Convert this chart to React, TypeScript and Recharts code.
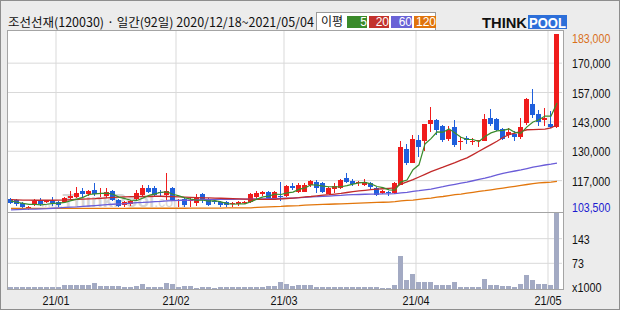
import React from "react";
import { ComposedChart, Bar, Line, XAxis, YAxis, CartesianGrid } from "recharts";

// 조선선재 daily candles, 2020/12/18 ~ 2021/05/04 (92 trading days)
const opens = [
  108500, 108000, 106500, 104500, 106000, 108000, 107000, 107500, 107000, 107000,
  109000, 109000, 112000, 110500, 112500, 110500, 109500, 112000, 108000, 105500,
  106000, 108500, 110500, 113500, 113500, 111500, 110000, 113500, 107500, 108500,
  107500, 107000, 110500, 108500, 107500, 107000, 107000, 106000, 106000, 106500,
  107000, 109000, 110500, 111500, 108500, 110000, 110000, 114500, 112000, 112000,
  114500, 116000, 115500, 111000, 113000, 113500, 118000, 116500, 115500, 114500,
  115500, 113500, 111000, 111500, 111000, 115000, 131000, 124500, 135000, 135000,
  142000, 144000, 141500, 135500, 141000, 134000, 136000, 134000, 134500, 134500,
  145000, 144500, 140000, 137000, 138000, 136500, 142500, 151500, 147000, 144000,
  142500, 141000,
];
const highs = [
  109000, 108500, 107000, 105500, 108500, 109000, 108000, 109500, 107500, 109500,
  112000, 114000, 113500, 112500, 115500, 113500, 113500, 112500, 108500, 107500,
  108000, 112500, 115000, 115000, 114500, 112500, 120000, 114000, 108500, 109000,
  109000, 110500, 111000, 109000, 108500, 107500, 107500, 107000, 107500, 107500,
  111000, 112000, 112000, 112000, 112000, 116000, 115000, 115500, 115500, 115500,
  117000, 117000, 116000, 114000, 115500, 117500, 120000, 117500, 116500, 117500,
  116000, 114000, 112500, 112000, 116000, 134500, 133500, 137500, 137500, 142500,
  150000, 144500, 142000, 141500, 144000, 136500, 137000, 136000, 135000, 147000,
  149000, 145000, 140500, 140500, 139000, 145000, 154000, 158000, 148500, 149500,
  148000, 183000,
];
const lows = [
  106000, 105500, 104000, 103500, 105500, 105500, 106500, 105500, 105000, 106500,
  108500, 109000, 109500, 110000, 110000, 109500, 109000, 107500, 105000, 105000,
  105500, 108000, 110000, 111000, 109500, 110000, 108000, 107500, 105000, 105000,
  105000, 105500, 106500, 105500, 106000, 105000, 105000, 105000, 105500, 106000,
  106500, 108500, 110000, 108500, 108000, 107500, 109500, 112500, 111000, 111500,
  114000, 111000, 111000, 110500, 111000, 113000, 115500, 114500, 114500, 114500,
  113000, 110000, 110500, 110000, 110500, 115000, 124000, 124500, 127500, 130000,
  138500, 137500, 134000, 134500, 132000, 130500, 133500, 133000, 132000, 134500,
  141500, 139000, 135000, 136000, 134500, 135500, 142000, 145000, 141500, 141500,
  140500, 140500,
];
const closes = [
  106500, 106000, 104500, 105000, 107500, 106000, 107500, 106500, 105500, 109000,
  110000, 111000, 110500, 112000, 110500, 111000, 111500, 108000, 105500, 107000,
  107500, 111000, 113500, 111500, 110500, 111000, 112000, 108000, 108000, 106000,
  108000, 109500, 108000, 106000, 107000, 105500, 105500, 106500, 107000, 107000,
  110500, 111000, 111500, 109000, 111500, 109500, 114500, 113500, 115000, 115000,
  116500, 113500, 111500, 113500, 114500, 117000, 116000, 115000, 116000, 116000,
  113500, 110500, 112000, 111000, 115500, 132000, 124500, 135500, 132000, 142500,
  144000, 139500, 135000, 139500, 133000, 134500, 135000, 134500, 135000, 144500,
  142500, 139500, 135500, 138500, 136500, 141000, 153500, 146500, 143500, 145000,
  141000, 183000,
];
// volume, x1000 shares
const volumes = [
  6, 5, 5, 5, 5, 5, 5, 5, 5, 10,
  10, 12, 10, 12, 18, 8, 8, 8, 8, 7,
  7, 8, 14, 6, 6, 7, 16, 14, 7, 9,
  9, 3, 6, 6, 4, 5, 5, 5, 6, 7,
  7, 6, 6, 8, 8, 19, 15, 8, 10, 11,
  11, 7, 6, 7, 7, 7, 6, 5, 5, 6,
  5, 5, 3, 4, 12, 93, 26, 43, 19, 20,
  19, 12, 12, 10, 19, 7, 7, 7, 7, 29,
  11, 10, 8, 8, 6, 14, 41, 25, 14, 13,
  12, 240,
];
const ma5 = [
  107500, 107000, 106500, 106000, 106000, 105800, 106100, 106500, 106600, 106900,
  107700, 108400, 109200, 110500, 110800, 111000, 111100, 110600, 109300, 108600,
  107900, 107800, 108900, 110100, 110800, 111500, 111700, 110600, 109900, 109000,
  108400, 107900, 107900, 107500, 107700, 107200, 106400, 106100, 106300, 106300,
  107300, 108400, 109400, 109800, 110700, 110500, 111200, 111600, 112800, 113500,
  114900, 114700, 114300, 114000, 113900, 114000, 114500, 115200, 115700, 116000,
  115300, 114100, 113600, 112600, 112500, 116200, 117000, 121700, 123900, 133300,
  135700, 138700, 138600, 140100, 138200, 136300, 135400, 135300, 134400, 136700,
  138300, 139200, 139400, 140100, 138500, 138200, 141000, 143200, 144200, 145900,
  145900, 151800,
];
const ma20 = [
  108200, 108100, 108000, 108000, 107900, 107900, 107900, 107900, 108000, 108000,
  108200, 108300, 108400, 108500, 108600, 108800, 109000, 109200, 109300, 109400,
  109500, 109500, 109600, 109600, 109700, 109700, 109600, 109500, 109400, 109300,
  109200, 109100, 109000, 109000, 108900, 108800, 108700, 108600, 108500, 108400,
  108400, 108300, 108300, 108300, 108300, 108500, 108700, 108900, 109100, 109400,
  109600, 109900, 110200, 110400, 110700, 111000, 111400, 111800, 112100, 112400,
  112700, 112900, 113100, 113300, 113500, 115200, 116200, 117200, 118400, 119600,
  120800, 121800, 122800, 123900, 124900, 126000, 127000, 128500, 130000, 131500,
  133000, 134500, 136200, 137500, 138200, 139000, 139700, 139800, 139900, 140000,
  140500, 142000,
];
const ma60 = [
  103600, 103700, 103800, 103900, 103900, 104000, 104100, 104300, 104500, 104700,
  104800, 104900, 105100, 105300, 105500, 105700, 105900, 106100, 106300, 106400,
  106600, 106800, 106900, 107100, 107300, 107400, 107600, 107700, 107800, 107900,
  108000, 108100, 108200, 108200, 108300, 108300, 108300, 108300, 108400, 108400,
  108400, 108500, 108500, 108600, 108600, 108700, 108800, 108900, 109100, 109200,
  109400, 109500, 109700, 109800, 110000, 110100, 110300, 110400, 110500, 110600,
  110700, 110700, 110800, 110800, 110900, 111200, 111500, 111900, 112200, 112600,
  112950, 113500, 114000, 114600, 115100, 115600, 116100, 116700, 117300, 117900,
  118600, 119400, 120000, 120600, 121100, 121600, 122200, 122800, 123300, 123800,
  124200, 124700,
];
const ma120 = [
  104200, 104200, 104200, 104200, 104200, 104200, 104200, 104200, 104200, 104200,
  104250, 104250, 104250, 104250, 104250, 104250, 104250, 104250, 104250, 104250,
  104300, 104300, 104300, 104300, 104300, 104300, 104300, 104300, 104300, 104300,
  104350, 104350, 104350, 104350, 104350, 104350, 104450, 104450, 104450, 104450,
  104450, 104700, 104800, 104900, 105000, 105100, 105300, 105400, 105500, 105700,
  105800, 105900, 106000, 106100, 106200, 106300, 106400, 106500, 106600, 106700,
  106800, 106900, 107000, 107100, 107300, 107600, 107800, 108000, 108300, 108600,
  108900, 109300, 109600, 110000, 110400, 110700, 111100, 111500, 111900, 112200,
  112600, 113000, 113400, 113800, 114200, 114600, 115000, 115400, 115700, 115900,
  116100, 116400,
];

const monthStarts = [8, 28, 46, 68, 90];
const monthLabels = ["21/01", "21/02", "21/03", "21/04", "21/05"];
const priceTicks = [103500, 116750, 130000, 143250, 156500, 169750, 183000];
const priceTickLabels = ["103,500", "117,000", "130,000", "143,000", "157,000", "170,000", "183,000"];
const volumeTicks = [0, 73, 143];
const volumeTickLabels = ["x1000", "73", "143"];

const RED = "#f01c1c";
const BLUE = "#1f5fdc";
const GRID = "#d9d9d9";
const FRAME = "#a4a4a4";
const VOL = "#a3aac3";
const MA_COLORS = { ma5: "#3a8c2c", ma20: "#c22a2a", ma60: "#6a5cd8", ma120: "#e2760c" };
const AXIS_FONT = "'Liberation Sans', Arial, sans-serif";

// the original uses a narrow bitmap font, so squeeze the glyphs to its widths
const narrowWidth = (s: string) =>
  s.split("").reduce((w, ch) => w + (ch === "," ? 2.9 : ch === "/" ? 3.6 : 5.9), 0);

const data = closes.map((close, i) => ({
  x: i + 0.5,
  open: opens[i],
  high: highs[i],
  low: lows[i],
  close,
  vol: volumes[i],
  ma5: ma5[i],
  ma20: ma20[i],
  ma60: ma60[i],
  ma120: ma120[i],
}));

const Candle = (props: any) => {
  const { x, y, width, height, payload } = props;
  if (x == null || !payload) return null;
  const { open, close, high, low } = payload;
  const color = close >= open ? RED : BLUE;
  const k = height / (high - low);
  const cx = Math.floor(x + width / 2) + 0.5;
  const yO = y + (high - open) * k;
  const yC = y + (high - close) * k;
  const top = Math.round(Math.min(yO, yC));
  const h = Math.max(Math.round(Math.abs(yO - yC)), 1);
  return (
    <g>
      <line x1={cx} x2={cx} y1={Math.round(y)} y2={Math.round(y + height)} stroke={color} strokeWidth={1} />
      <rect x={cx - 2.5} y={top} width={5} height={h} fill={color} />
    </g>
  );
};

const VolBar = (props: any) => {
  const { x, y, width, height } = props;
  if (x == null || height <= 0) return null;
  const cx = Math.floor(x + width / 2) + 0.5;
  const top = Math.round(y);
  return <rect x={cx - 2.5} y={top} width={5} height={Math.round(y + height) - top} fill={VOL} />;
};

const AxisText = ({ x, y, label, fill = "#111", anchor = "start" }: any) => (
  <text
    x={x}
    y={y}
    fill={fill}
    fontSize={13}
    fontFamily={AXIS_FONT}
    textAnchor={anchor}
    textLength={narrowWidth(label)}
    lengthAdjust="spacingAndGlyphs"
  >
    {label}
  </text>
);

const PriceTick = (props: any) => {
  const { x, y, payload } = props;
  const i = priceTicks.indexOf(payload.value);
  let fill = "#111";
  let dy = 5;
  if (i === priceTicks.length - 1) {
    fill = "#d9701a";
    dy = 9;
  } else if (i === 0) {
    fill = "#1a1ad0";
    dy = 1.5;
  }
  return <AxisText x={x} y={y + dy} fill={fill} label={priceTickLabels[i]} />;
};

const VolumeTick = (props: any) => {
  const { x, y, payload } = props;
  const i = volumeTicks.indexOf(payload.value);
  return <AxisText x={x} y={y + (i === 0 ? 2.5 : 5)} label={volumeTickLabels[i]} />;
};

const MonthTick = (props: any) => {
  const { x, y, payload } = props;
  const i = monthStarts.indexOf(payload.value);
  return <AxisText x={x} y={y + 8} label={monthLabels[i]} anchor="middle" />;
};

const legendItems = [
  { label: "5", color: "#3a8a2a", width: 20 },
  { label: "20", color: "#c3322d", width: 20 },
  { label: "60", color: "#6a62d6", width: 21 },
  { label: "120", color: "#e0740c", width: 22 },
];

export default function App() {
  let legendLeft = 30;
  return (
    <div
      style={{
        position: "absolute",
        left: 0,
        top: 0,
        width: 620,
        height: 310,
        boxSizing: "border-box",
        background: "#ececec",
        border: "1px solid #8e8e8e",
        overflow: "hidden",
        fontFamily: "'Noto Sans CJK KR', sans-serif",
      }}
    >
      {/* title */}
      <div style={{ position: "absolute", left: 7, top: 12, fontSize: 12.5, lineHeight: "18px", color: "#111", whiteSpace: "nowrap" }}>
        조선선재(120030) · 일간(92일) 2020/12/18~2021/05/04
      </div>

      {/* moving-average legend */}
      <div
        style={{
          position: "absolute",
          left: 315,
          top: 11,
          width: 118,
          height: 17,
          background: "#fff",
          border: "1px solid #9a9a9a",
        }}
      >
        <span style={{ position: "absolute", left: 4, top: 0, fontSize: 12, lineHeight: "16px", color: "#111" }}>이평</span>
        {legendItems.map((it) => {
          const left = legendLeft;
          legendLeft += it.width + 2;
          return (
            <span
              key={it.label}
              style={{
                position: "absolute",
                left,
                top: 3,
                width: it.width,
                height: 12,
                background: it.color,
                color: "#fff",
                fontSize: 12,
                lineHeight: "12px",
                textAlign: "right",
                fontFamily: "'Liberation Sans', sans-serif",
              }}
            >
              {it.label}
            </span>
          );
        })}
      </div>

      {/* logo */}
      <svg style={{ position: "absolute", left: 480, top: 12 }} width={90} height={18}>
        <text x={1} y={15} fontFamily="'Liberation Sans', Arial, sans-serif" fontWeight={700} fontSize={15} fill="#111" textLength={45} lengthAdjust="spacingAndGlyphs">
          THINK
        </text>
        <rect x={47} y={2} width={39} height={14} fill="#2d6fd9" />
        <text x={48} y={15} fontFamily="'Liberation Sans', Arial, sans-serif" fontWeight={700} fontSize={15} fill="#fff" textLength={37} lengthAdjust="spacingAndGlyphs">
          POOL
        </text>
      </svg>

      {/* panel frame */}
      <div
        style={{
          position: "absolute",
          left: 6,
          top: 29,
          width: 557,
          height: 260,
          boxSizing: "border-box",
          background: "#fff",
          border: `1px solid ${FRAME}`,
        }}
      />
      <div style={{ position: "absolute", left: 6, top: 211, width: 557, height: 1, background: FRAME }} />

      {/* watermark */}
      <div style={{ position: "absolute", left: 40, top: 189, color: "#d6d6d6", fontFamily: "'Liberation Sans', Arial, sans-serif", whiteSpace: "nowrap" }}>
        <span style={{ fontSize: 9 }}>www.</span>
        <span style={{ fontSize: 19, fontWeight: 700 }}>ThinkPool</span>
        <span style={{ fontSize: 14 }}>.com</span>
      </div>

      {/* price panel */}
      <div style={{ position: "absolute", left: -1, top: -1 }}>
        <ComposedChart width={620} height={217} data={data} margin={{ top: 31, right: 0, bottom: 5, left: 8 }}>
          <CartesianGrid stroke={GRID} horizontalValues={priceTicks.slice(1, -1)} verticalValues={monthStarts} />
          <XAxis type="number" dataKey="x" domain={[0, 92]} hide padding={{ left: 0, right: 2 }} allowDataOverflow />
          <YAxis
            orientation="right"
            type="number"
            domain={[102600, 184260]}
            allowDataOverflow
            ticks={priceTicks}
            interval={0}
            width={58}
            tickLine={false}
            axisLine={false}
            tickMargin={4}
            tick={<PriceTick />}
          />
          <Line dataKey="ma120" stroke={MA_COLORS.ma120} strokeWidth={1.3} dot={false} isAnimationActive={false} />
          <Line dataKey="ma60" stroke={MA_COLORS.ma60} strokeWidth={1.3} dot={false} isAnimationActive={false} />
          <Line dataKey="ma20" stroke={MA_COLORS.ma20} strokeWidth={1.3} dot={false} isAnimationActive={false} />
          <Line dataKey="ma5" stroke={MA_COLORS.ma5} strokeWidth={1.2} dot={false} isAnimationActive={false} />
          <Bar dataKey={(d: any) => [d.low, d.high]} barSize={5} shape={<Candle />} isAnimationActive={false} />
        </ComposedChart>
      </div>

      {/* volume panel */}
      <div style={{ position: "absolute", left: -1, top: 211 }}>
        <ComposedChart width={620} height={98} data={data} margin={{ top: 1, right: 0, bottom: 0, left: 8 }}>
          <CartesianGrid stroke={GRID} horizontalValues={[73, 143]} verticalValues={monthStarts} />
          <XAxis
            type="number"
            dataKey="x"
            domain={[0, 92]}
            padding={{ left: 0, right: 2 }}
            allowDataOverflow
            ticks={monthStarts}
            interval={0}
            height={21}
            tickLine={false}
            axisLine={false}
            tick={<MonthTick />}
          />
          <YAxis
            orientation="right"
            type="number"
            domain={[0, 216]}
            allowDataOverflow
            ticks={volumeTicks}
            interval={0}
            width={58}
            tickLine={false}
            axisLine={false}
            tickMargin={4}
            tick={<VolumeTick />}
          />
          <Bar dataKey="vol" barSize={5} shape={<VolBar />} isAnimationActive={false} />
        </ComposedChart>
      </div>
    </div>
  );
}
